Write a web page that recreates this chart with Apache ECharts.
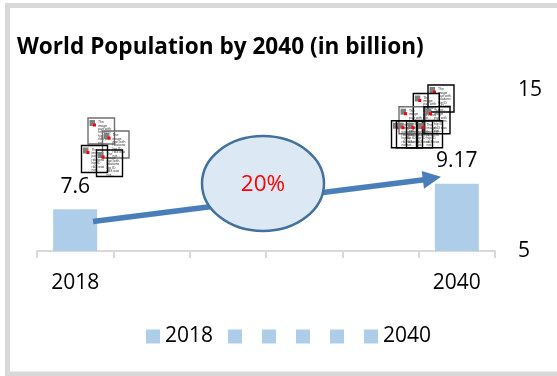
<!DOCTYPE html>
<html>
<head>
<meta charset="utf-8">
<style>html,body{margin:0;padding:0;background:#fff}#chart{width:557px;height:376px}</style>
<script src="https://cdn.jsdelivr.net/npm/echarts@6/dist/echarts.min.js"></script>
</head>
<body>
<div id="chart"></div>
<script>
// World population projection: two populated years on a six-slot axis.
const categories = ['2018', '', '', '', '', '2040'];
const legendNames = ['2018', ' ', '  ', '   ', '    ', '2040'];
const population = [7.6, null, null, null, null, 9.17];
const axisRange = [5, 15];
const growthLabel = '20%';
const placeholderText = 'The\nimage\npart with\nrelations\nhip ID\nrId3 was\nnot...';

const FONT = '"Open Sans", "Noto Sans", sans-serif';
const BAR = '#aecde9';

// Small "missing picture" placeholders scattered above each bar.
const leftIcons = [[88, 118, 26.5, 26, '#6e6e6e'], [102.5, 131, 26.5, 27, '#6e6e6e'], [81.5, 145.5, 26, 27, '#000'], [96.5, 150, 26, 26.5, '#000']];
const rightIcons = [[428, 85, 26, 27, '#000'], [413.3, 93.5, 26, 27, '#000'], [399, 106.7, 26, 27, '#6e6e6e'], [424, 106.7, 26, 27, '#000'],
  [391.5, 120.7, 26, 27, '#000'], [396.5, 120.7, 26, 27, '#000'], [406.5, 120.7, 26, 27, '#000'], [416.5, 120.7, 26, 27, '#000']];

function placeholder(box) {
  const [x, y, w, h, stroke] = box;
  return {
    type: 'group', x, y, silent: true,
    children: [
      { type: 'rect', shape: { x: 0, y: 0, width: w, height: h }, style: { fill: 'none', stroke, lineWidth: 1.4 } },
      { type: 'rect', shape: { x: 1.5, y: 2, width: 5.5, height: 6 }, style: { fill: '#7f7f7f' } },
      { type: 'rect', shape: { x: 5, y: 5.5, width: 3, height: 3 }, style: { fill: '#ff0000' } },
      { type: 'text', x: 10, y: 2.5, style: { text: placeholderText, font: '3.4px sans-serif', lineHeight: 3.4, fill: '#333' } }
    ]
  };
}

// The first legend entry sits closer to the blank swatches, so it gets its own legend box.
const legendBase = {
  top: 321,
  itemWidth: 14, itemHeight: 14, itemGap: 20,
  icon: 'rect',
  formatter: (n) => n.trim(),
  textStyle: { fontFamily: FONT, fontSize: 21, color: '#000' }
};

const chart = echarts.init(document.getElementById('chart'), null, { renderer: 'canvas' });
chart.setOption({
  animation: false,
  backgroundColor: '#fff',
  title: {
    text: 'World Population by 2040 (in billion)',
    left: 12, top: 31,
    textStyle: { fontFamily: FONT, fontSize: 22.6, fontWeight: 'bold', color: '#000' }
  },
  legend: [
    Object.assign({}, legendBase, { data: legendNames.slice(0, 1), left: 141 }),
    Object.assign({}, legendBase, { data: legendNames.slice(1), left: 223 })
  ],
  grid: { left: 37, right: 62, top: 90, bottom: 125 },
  xAxis: {
    type: 'category', data: categories,
    axisLine: { lineStyle: { color: '#d9d9d9', width: 2 } },
    axisTick: { show: true, length: 7, interval: 0, lineStyle: { color: '#d9d9d9', width: 2 } },
    axisLabel: { interval: 0, margin: 22, fontFamily: FONT, fontSize: 21, color: '#000' }
  },
  yAxis: {
    type: 'value', position: 'right', min: axisRange[0], max: axisRange[1], interval: axisRange[1] - axisRange[0],
    axisLine: { show: false }, axisTick: { show: false }, splitLine: { show: false },
    axisLabel: { margin: 23, padding: [6, 0, 0, 0], fontFamily: FONT, fontSize: 21, color: '#000' }
  },
  series: legendNames.map((name, i) => ({
    type: 'bar', name,
    barWidth: 44, barGap: '-100%',
    itemStyle: { color: BAR },
    label: { show: true, position: 'top', distance: 12, fontFamily: FONT, fontSize: 21, color: '#000' },
    data: categories.map((_, j) => (j === i ? population[j] : null))
  })),
  graphic: [
    // Frame around the chart; it runs off the right edge of the page.
    { type: 'rect', silent: true, z: 0, shape: { x: 7.5, y: 5.5, width: 600, height: 368.5 }, style: { fill: 'none', stroke: '#d9d9d9', lineWidth: 5 } },
    // Growth arrow, drawn under the ellipse.
    { type: 'line', silent: true, z: 5, shape: { x1: 93, y1: 221.5, x2: 426, y2: 179.5 }, style: { stroke: '#4a7ebb', lineWidth: 5.5 } },
    { type: 'polygon', silent: true, z: 5, shape: { points: [[441, 176.7], [421.7, 171], [424, 188.7]] }, style: { fill: '#4a7ebb' } },
    { type: 'ellipse', silent: true, z: 6, shape: { cx: 263, cy: 183.5, rx: 61, ry: 47.5 }, style: { fill: '#dde8f5', stroke: '#41719c', lineWidth: 2.5 } },
    { type: 'text', silent: true, z: 7, x: 263, y: 184.5, style: { text: growthLabel, align: 'center', verticalAlign: 'middle', font: '22.5px ' + FONT, fill: '#ff0000' } },
    { type: 'group', silent: true, z: 8, children: leftIcons.concat(rightIcons).map(placeholder) }
  ]
});
</script>
</body>
</html>
